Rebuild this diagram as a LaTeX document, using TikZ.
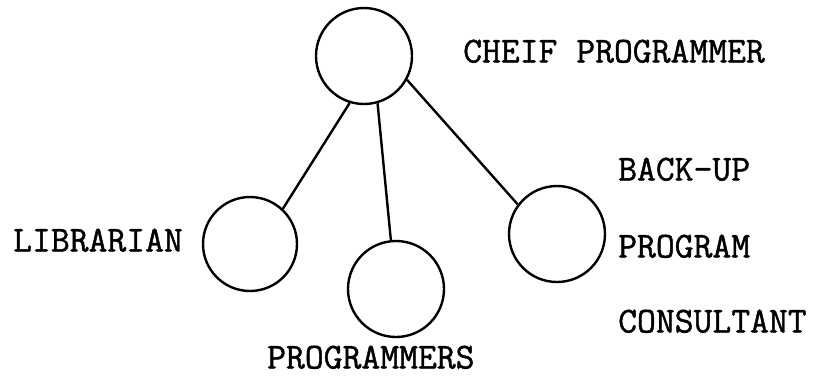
\documentclass[tikz,border=0pt]{standalone}
\usepackage{fontspec}
\setmonofont{Latin Modern Mono}[FakeBold=1.2]
\begin{document}
\begin{tikzpicture}[x=1pt,y=-1pt,
  member/.style={draw, circle, line width=2.4pt, minimum size=96pt, inner sep=0pt},
  link/.style={line width=2.4pt},
  lbl/.style={anchor=west, inner sep=0pt, font=\fontsize{36.6}{40}\ttfamily\bfseries, text height=21pt, text depth=0pt}]
\useasboundingbox (0,0) rectangle (816,375);
\node[member] (chief) at (364,56) {};
\node[member, minimum size=94pt] (lib) at (250,244) {};
\node[member] (prog) at (396,289) {};
\node[member] (backup) at (557,234) {};
\draw[link] (chief.-107) -- (lib.47);
\draw[link] (chief.-74) -- (prog.96);
\draw[link] (chief.-29) -- (backup.143);
\node[lbl] (tchief) at (463,52) {CHEIF PROGRAMMER};
\node[lbl] (tlib) at (13,241) {LIBRARIAN};
\node[lbl] (tprog) at (267,358) {PROGRAMMERS};
\node[lbl] (tback) at (618,170) {BACK-UP};
\node[lbl] (tprogram) at (618,247) {PROGRAM};
\node[lbl] (tcons) at (618,322) {CONSULTANT};
\end{tikzpicture}
\end{document}
